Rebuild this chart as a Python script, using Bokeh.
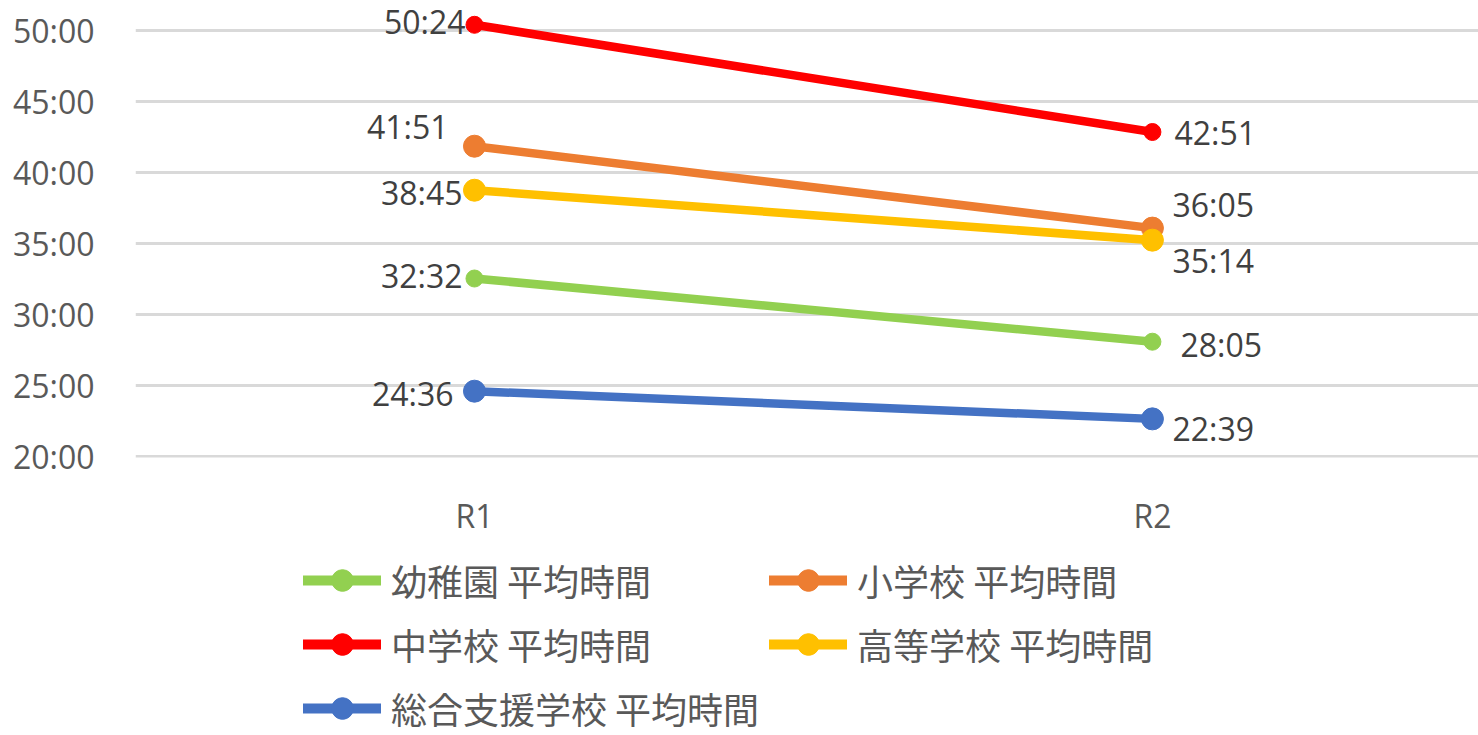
from bokeh.plotting import figure
from bokeh.layouts import column
from bokeh.models import Range1d, FixedTicker, Legend, LegendItem, ColumnDataSource
from bokeh.core.properties import value
from bokeh.embed import file_html
from bokeh.resources import INLINE

# ---- data ----
periods = ["R1", "R2"]
series_names = ["幼稚園 平均時間", "小学校 平均時間", "中学校 平均時間",
                "高等学校 平均時間", "総合支援学校 平均時間"]
kindergarten = ["32:32", "28:05"]
elementary = ["41:51", "36:05"]
junior_high = ["50:24", "42:51"]
high_school = ["38:45", "35:14"]
support_school = ["24:36", "22:39"]
y_ticks = [20, 25, 30, 35, 40, 45, 50]

# ---- styles ----
colors = ["#92D050", "#ED7D31", "#FF0000", "#FFC000", "#4472C4"]
marker_sizes = [17, 22, 17, 22, 22]
# label offsets (px) per series: (R1 dx, R1 dy, R2 dx, R2 dy)
label_offsets = [
    (-12, -3, 28, 3),
    (-26, -20, 20, -24),
    (-9, -3, 22, 0),
    (-12, 2, 20, 20),
    (-21, 2, 20, 10),
]


def to_minutes(s):
    m, sec = s.split(":")
    return int(m) + int(sec) / 60.0


all_series = [kindergarten, elementary, junior_high, high_school, support_school]
xs = [i + 0.5 for i in range(len(periods))]

p = figure(width=1478, height=540, output_backend="svg", toolbar_location=None,
           x_range=Range1d(0, 1.981), y_range=Range1d(19.93, 52.11),
           min_border_left=135, min_border_right=0, min_border_top=0,
           min_border_bottom=83)
p.outline_line_color = None
p.background_fill_color = "white"
p.border_fill_color = "white"

# axes
p.xaxis.ticker = FixedTicker(ticks=xs)
p.xaxis.major_label_overrides = {x: lab for x, lab in zip(xs, periods)}
p.xaxis.axis_line_color = None
p.xaxis.major_tick_line_color = None
p.xaxis.minor_tick_line_color = None
p.xaxis.major_label_standoff = 30
p.xaxis.major_label_text_font = "Open Sans"
p.xaxis.major_label_text_font_size = "32px"
p.xaxis.major_label_text_color = "#595959"

p.yaxis.ticker = FixedTicker(ticks=y_ticks)
p.yaxis.major_label_overrides = {t: f"{t}:00" for t in y_ticks}
p.yaxis.axis_line_color = None
p.yaxis.major_tick_line_color = None
p.yaxis.minor_tick_line_color = None
p.yaxis.major_label_standoff = 35
p.yaxis.major_label_text_font = "Open Sans"
p.yaxis.major_label_text_font_size = "32px"
p.yaxis.major_label_text_color = "#595959"

p.xgrid.grid_line_color = None
p.ygrid.grid_line_color = "#D9D9D9"
p.ygrid.grid_line_width = 3

# legend-only figure below the chart (its ranges keep the data out of view)
lp = figure(width=1478, height=195, output_backend="svg", toolbar_location=None,
            x_range=Range1d(100, 101), y_range=Range1d(100, 101),
            min_border=0, x_axis_location=None, y_axis_location=None)
lp.outline_line_color = None
lp.grid.visible = False
lp.border_fill_color = "white"

items = []
for name, vals, col, ms, offs in zip(series_names, all_series, colors, marker_sizes, label_offsets):
    ys = [to_minutes(v) for v in vals]
    src = ColumnDataSource(dict(x=xs, y=ys, label=vals))
    p.line("x", "y", source=src, line_color=col, line_width=8.5, line_cap="round")
    p.scatter("x", "y", source=src, size=ms, fill_color=col, line_color=col)
    lln = lp.line("x", "y", source=src, line_color=col, line_width=10, line_cap="round")
    lsc = lp.scatter("x", "y", source=src, size=22, fill_color=col, line_color=col)
    items.append(LegendItem(label=name, renderers=[lln, lsc]))
    # R1 label (left) and R2 label (right)
    p.text(x=[xs[0]], y=[ys[0]], text=[vals[0]], x_offset=offs[0], y_offset=offs[1],
           text_align="right", text_baseline="middle", text_font=value("Open Sans"),
           text_font_size="32px", text_color="#404040")
    p.text(x=[xs[1]], y=[ys[1]], text=[vals[1]], x_offset=offs[2], y_offset=offs[3],
           text_align="left", text_baseline="middle", text_font=value("Open Sans"),
           text_font_size="32px", text_color="#404040")

legend = Legend(items=items, orientation="horizontal", ncols=2,
                location=(168, 0),
                glyph_width=78, glyph_height=54, label_height=40,
                label_standoff=10, spacing=10, padding=0, margin=0,
                label_text_font="Noto Sans CJK JP", label_text_font_size="36px",
                label_text_color="#595959", border_line_color=None,
                background_fill_alpha=0)
lp.add_layout(legend, "center")

layout = column(p, lp, spacing=0)
open("out.html", "w").write(file_html(layout, INLINE))
